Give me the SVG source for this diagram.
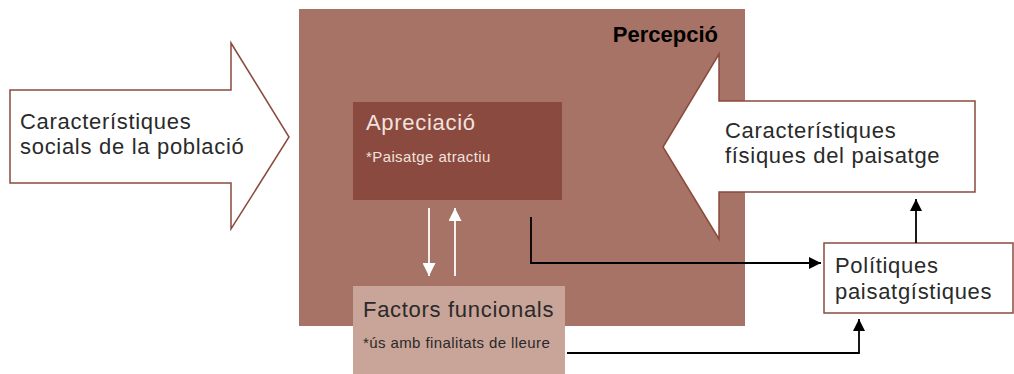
<svg xmlns="http://www.w3.org/2000/svg" width="1014" height="374" viewBox="0 0 1014 374">
<defs>
<marker id="ab" viewBox="0 0 10 10" refX="10" refY="5" markerWidth="12" markerHeight="12" markerUnits="userSpaceOnUse" orient="auto"><path d="M0,0 L10,5 L0,10 z" fill="#000"/></marker>
<marker id="aw" viewBox="0 0 10 10" refX="10" refY="5" markerWidth="13" markerHeight="13" markerUnits="userSpaceOnUse" orient="auto"><path d="M0,0 L10,5 L0,10 z" fill="#fff"/></marker>
</defs>
<style>
text{font-family:"Liberation Sans",Arial,sans-serif}
.big{font-size:22px;fill:#2a2a2a;letter-spacing:0.7px}
.shape{fill:#fff;stroke:#8B4A3C;stroke-width:1.5}
.lt{font-size:22px;fill:#F2E2DD;letter-spacing:0.7px}
.sm{font-size:15px;fill:#F2E2DD;letter-spacing:0.4px}
.dk{font-size:22px;fill:#2a2a2a;letter-spacing:0.7px}
.dsm{font-size:15px;fill:#2a2a2a;letter-spacing:0.4px}
.con{fill:none;stroke:#000;stroke-width:1.8}
.wc{fill:none;stroke:#fff;stroke-width:1.8}
</style>
<g id="percepcio">
<rect x="299" y="9" width="446" height="317" fill="#A67366"/>
<text x="718" y="42" text-anchor="end" style="font-size:22px;font-weight:bold;fill:#000">Percepció</text>
</g>
<g id="socials">
<path class="shape" d="M10,90 H231 V43 L289,137 L231,229 V183 H10 Z"/>
<text class="big" x="20" y="129">Característiques</text>
<text class="big" x="20" y="154">socials de la població</text>
</g>
<g id="fisiques">
<path class="shape" d="M975,101 H719 V54 L663,147 L719,239 V192 H975 Z"/>
<text class="big" x="725" y="138">Característiques</text>
<text class="big" x="725" y="163">físiques del paisatge</text>
</g>
<g id="apreciacio">
<rect x="353" y="102" width="209" height="98" fill="#8A4A3F"/>
<text class="lt" x="366" y="130">Apreciació</text>
<text class="sm" x="366" y="162">*Paisatge atractiu</text>
</g>
<g id="factors">
<rect x="353" y="286" width="212" height="88" fill="#C9A498"/>
<text class="dk" x="363" y="317">Factors funcionals</text>
<text class="dsm" x="363" y="348">*ús amb finalitats de lleure</text>
</g>
<g id="politiques">
<rect x="824" y="243" width="189" height="70" class="shape"/>
<text class="big" x="835" y="273">Polítiques</text>
<text class="big" x="835" y="299">paisatgístiques</text>
</g>
<g id="connectors">
<path class="wc" d="M429,208 V276" marker-end="url(#aw)"/>
<path class="wc" d="M455,276 V208" marker-end="url(#aw)"/>
<path class="con" d="M531,217 V263 H821" marker-end="url(#ab)"/>
<path class="con" d="M567,353 H859 V319" marker-end="url(#ab)"/>
<path class="con" d="M916,243 V199" marker-end="url(#ab)"/>
</g>
</svg>
